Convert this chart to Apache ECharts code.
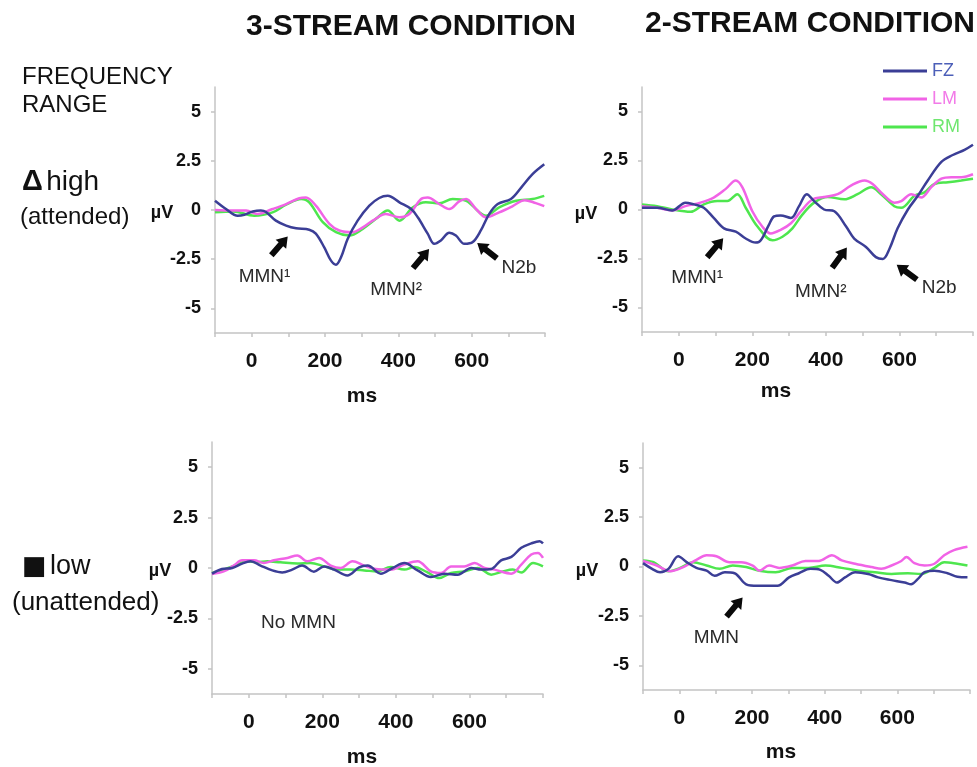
<!DOCTYPE html>
<html><head><meta charset="utf-8">
<script src="https://cdn.jsdelivr.net/npm/echarts@6/dist/echarts.min.js"></script>
<style>html,body{margin:0;padding:0;background:#fff}#c{width:977px;height:767px}</style>
</head><body><div id="c"></div>
<script>
// ---------- data ----------
const seriesNames = ['FZ', 'LM', 'RM'];
const xLabelValues = [0, 200, 400, 600];
const yTickValues = [-5, -2.5, 0, 2.5, 5];

// 3-stream, high (attended)
const tlFZ = [[-100,0.47],[-70,0.05],[-38,-0.29],[-20,-0.24],[3,-0.08],[25,-0.03],[39,-0.1],[66,-0.54],[94,-0.79],[121,-0.93],[157,-1.0],[175,-1.2],[198,-1.9],[216,-2.56],[230,-2.78],[244,-2.39],[262,-1.46],[289,-0.54],[321,0.22],[348,0.61],[371,0.72],[403,0.39],[435,0.05],[453,-0.37],[480,-1.2],[498,-1.72],[516,-1.55],[539,-1.16],[557,-1.3],[580,-1.72],[603,-1.63],[625,-1.04],[648,-0.2],[671,0.3],[707,0.56],[735,1.14],[766,1.82],[798,2.32]];
const tlLM = [[-100,0],[-52,-0.03],[-15,-0.03],[16,-0.2],[57,0.05],[94,0.3],[130,0.6],[148,0.64],[175,0.22],[212,-0.7],[239,-1.04],[275,-1.13],[303,-0.88],[330,-0.54],[366,-0.2],[403,-0.37],[430,-0.2],[462,0.56],[480,0.64],[512,0.3],[539,0.05],[566,0.44],[585,0.56],[612,0.05],[639,-0.37],[675,-0.12],[712,0.2],[744,0.5],[775,0.35],[798,0.2]];
const tlRM = [[-100,-0.12],[-50,-0.07],[7,-0.29],[57,-0.12],[94,0.27],[135,0.56],[157,0.39],[194,-0.62],[230,-1.13],[266,-1.3],[303,-0.96],[339,-0.45],[371,-0.03],[403,-0.54],[439,0.13],[475,0.39],[512,0.34],[548,0.56],[585,0.47],[621,-0.12],[639,-0.29],[675,0.13],[721,0.47],[766,0.56],[798,0.72]];

// 2-stream, high (attended)
const trFZ = [[-100,0.09],[-59,0.09],[-18,-0.05],[18,0.35],[41,0.26],[68,0.09],[95,-0.43],[123,-0.96],[155,-1.13],[182,-1.48],[209,-1.69],[223,-1.57],[245,-0.78],[259,-0.35],[277,-0.3],[305,-0.43],[327,0.17],[348,0.78],[368,0.43],[395,0],[423,-0.09],[455,-0.87],[477,-1.48],[509,-1.91],[536,-2.43],[555,-2.52],[573,-2.0],[595,-0.96],[623,0],[650,0.7],[677,1.48],[714,2.43],[745,2.78],[777,3.04],[800,3.3]];
const trLM = [[-100,0.17],[-59,0.09],[-18,-0.05],[18,0.17],[59,0.35],[95,0.61],[127,1.04],[155,1.48],[173,1.13],[200,-0.09],[227,-0.87],[250,-1.22],[277,-1.04],[305,-0.7],[332,-0.09],[364,0.52],[395,0.64],[432,0.78],[468,1.22],[505,1.48],[527,1.3],[555,0.78],[586,0.35],[605,0.43],[632,0.78],[659,0.61],[686,1.13],[714,1.57],[741,1.65],[768,1.65],[800,1.8]];
const trRM = [[-100,0.26],[-59,0.17],[-18,0],[32,-0.12],[68,0.26],[105,0.43],[132,0.43],[159,0.78],[182,0.09],[214,-0.87],[255,-1.57],[282,-1.39],[309,-0.96],[336,-0.26],[368,0.35],[405,0.64],[450,0.52],[486,0.78],[523,1.13],[550,0.78],[586,0.17],[605,0.09],[641,0.7],[668,0.87],[695,1.3],[732,1.39],[768,1.48],[800,1.57]];

// 3-stream, low (unattended)
const blFZ = [[-100,-0.28],[-73,-0.05],[-45,0],[-18,0.22],[5,0.33],[32,0.12],[64,-0.12],[91,-0.22],[118,-0.08],[145,0.12],[177,-0.18],[205,0.08],[232,-0.08],[268,-0.37],[300,0.03],[323,0.12],[359,-0.28],[391,0],[423,0.25],[459,-0.12],[495,-0.45],[532,-0.28],[568,-0.33],[605,0],[632,-0.08],[659,-0.05],[686,0.38],[714,0.55],[741,1.0],[768,1.22],[791,1.33],[800,1.22]];
const blLM = [[-100,-0.3],[-68,-0.17],[-41,0.12],[-18,0.38],[14,0.38],[41,0.25],[68,0.38],[105,0.5],[132,0.62],[159,0.33],[191,0.5],[223,0.12],[250,0],[282,0.33],[314,0.12],[345,-0.05],[386,-0.08],[423,0.17],[459,0.33],[495,-0.17],[523,-0.25],[550,0.08],[586,0.08],[614,0.25],[641,0],[668,-0.08],[714,-0.28],[741,0.17],[768,0.67],[786,0.75],[800,0.5]];
const blRM = [[-100,-0.25],[-68,-0.08],[-32,0.17],[-5,0.33],[23,0.28],[50,0.33],[86,0.28],[132,0.22],[168,0.25],[205,0.08],[241,-0.08],[277,-0.08],[314,-0.12],[350,-0.17],[386,0.05],[423,-0.08],[450,0.05],[486,-0.22],[518,-0.5],[550,-0.25],[586,-0.17],[623,0],[659,-0.33],[691,-0.17],[718,-0.08],[741,-0.22],[773,0.25],[800,0.08]];

// 2-stream, low (unattended)
const brFZ = [[-100,0.17],[-75,-0.12],[-53,-0.29],[-30,-0.12],[-3,0.52],[20,0.22],[47,-0.07],[75,-0.21],[97,-0.47],[125,-0.29],[152,-0.34],[184,-0.9],[215,-0.98],[247,-0.98],[270,-0.98],[302,-0.55],[329,-0.34],[361,-0.12],[388,-0.17],[411,-0.47],[434,-0.81],[456,-0.55],[484,-0.29],[520,-0.38],[547,-0.55],[584,-0.69],[620,-0.81],[638,-0.9],[656,-0.64],[675,-0.29],[702,-0.21],[738,-0.34],[765,-0.52],[793,-0.55]];
const brLM = [[-100,0.28],[-62,0.05],[-25,-0.24],[11,-0.03],[47,0.34],[75,0.57],[102,0.52],[138,0.22],[170,0.22],[202,0.05],[220,-0.21],[247,0.05],[275,-0.07],[311,0.05],[347,0.28],[384,0.28],[420,0.57],[447,0.31],[484,0.14],[529,-0.03],[556,-0.12],[584,0.05],[611,0.28],[625,0.48],[647,0.17],[675,0.05],[702,0.14],[729,0.57],[756,0.83],[793,1.0]];
const brRM = [[-100,0.31],[-71,0.22],[-30,-0.24],[2,-0.07],[38,0.22],[75,0.05],[111,-0.12],[147,0.05],[184,-0.03],[220,-0.21],[265,-0.29],[311,-0.07],[356,-0.07],[402,0.05],[447,-0.07],[493,-0.21],[538,-0.29],[584,-0.38],[629,-0.34],[665,-0.38],[702,-0.07],[729,0.22],[765,0.14],[793,0.05]];

// annotations (data coordinates)
const tlNotes = [['MMN¹', 35, -3.38], ['MMN²', 394, -4.04], ['N2b', 729, -2.93]];
const tlArrows = [[76, -1.82, -41], [462, -2.47, -40], [642, -2.07, 52]];
const trNotes = [['MMN¹', 50, -3.46], ['MMN²', 386, -4.2], ['N2b', 708, -3.97]];
const trArrows = [[99, -1.95, -40], [437, -2.46, -36], [620, -3.2, 54]];
const blNotes = [['No MMN', 135, -2.74]];
const blArrows = [];
const brNotes = [['MMN', 102, -3.59]];
const brArrows = [[152, -2.05, -40]];

// ---------- chart ----------
const FONT = 'Liberation Sans, Arial, sans-serif';
const colors = ['#3b3e96', '#f163e6', '#4ee64e'];
const legendTextColors = ['#4c5fb8', '#f27ae8', '#6fe66f'];
const arrowPath = 'path://M7,0L14,10L10,10L10,24L4,24L4,10L0,10Z';

const panels = [
  { grid: { left: 215, top: 87, width: 330, height: 246 }, data: [tlFZ, tlLM, tlRM], notes: tlNotes, arrows: tlArrows },
  { grid: { left: 642, top: 87, width: 331, height: 245 }, data: [trFZ, trLM, trRM], notes: trNotes, arrows: trArrows },
  { grid: { left: 212, top: 442, width: 331, height: 252 }, data: [blFZ, blLM, blRM], notes: blNotes, arrows: blArrows },
  { grid: { left: 643, top: 443, width: 327, height: 247 }, data: [brFZ, brLM, brRM], notes: brNotes, arrows: brArrows }
];

const axisGray = '#c4c4c4';
const grids = [], xAxes = [], yAxes = [], series = [];
panels.forEach((p, i) => {
  grids.push(Object.assign({ containLabel: false }, p.grid));
  xAxes.push({
    type: 'value', gridIndex: i, min: -100, max: 800, interval: 100,
    axisLine: { show: true, onZero: false, lineStyle: { color: axisGray, width: 1.5 } },
    axisTick: { show: true, length: 4, lineStyle: { color: axisGray, width: 1.5 } },
    splitLine: { show: false },
    axisLabel: {
      margin: 18, fontSize: 21, fontWeight: 'bold', color: '#111', fontFamily: FONT,
      formatter: v => (xLabelValues.indexOf(v) >= 0 ? String(v) : '')
    }
  });
  yAxes.push({
    type: 'value', gridIndex: i, min: -6.25, max: 6.25,
    axisLine: { show: true, onZero: false, lineStyle: { color: axisGray, width: 1.5 } },
    axisTick: { show: true, length: 4, customValues: yTickValues, lineStyle: { color: axisGray, width: 1.5 } },
    splitLine: { show: false },
    axisLabel: {
      customValues: yTickValues, margin: 14, fontSize: 18, fontWeight: 'bold', color: '#111', fontFamily: FONT,
      padding: [6, 0, 0, 0]
    }
  });
  p.data.forEach((d, k) => {
    const s = {
      name: seriesNames[k], type: 'line', xAxisIndex: i, yAxisIndex: i,
      data: d, smooth: 0.35, showSymbol: false, symbol: 'none',
      lineStyle: { color: colors[k], width: 2.5 }, itemStyle: { color: colors[k] },
      z: 3 - k
    };
    if (k === 0) {
      const mp = [];
      p.arrows.forEach(a => mp.push({
        coord: [a[0], a[1]], symbol: arrowPath, symbolSize: [14, 25], symbolRotate: a[2],
        itemStyle: { color: '#0a0a0a' }, label: { show: false }
      }));
      p.notes.forEach(n => mp.push({
        coord: [n[1], n[2]], symbol: 'circle', symbolSize: 1,
        itemStyle: { color: 'rgba(0,0,0,0)' },
        label: { show: true, position: 'inside', formatter: n[0], fontSize: 19, color: '#2a2a2a', fontFamily: FONT }
      }));
      s.markPoint = { silent: true, animation: false, data: mp };
    }
    series.push(s);
  });
});

function txt(x, y, text, size, bold, align, extra) {
  return Object.assign({
    type: 'text', x: x, y: y, silent: true,
    style: { text: text, fontSize: size, fontWeight: bold ? 'bold' : 'normal', fontFamily: FONT,
      fill: '#111', textAlign: align || 'left', textVerticalAlign: 'middle' }
  }, extra || {});
}

const graphic = [
  txt(411, 27, '3-STREAM CONDITION', 30, true, 'center'),
  txt(810, 24, '2-STREAM CONDITION', 30, true, 'center'),
  txt(22, 77, 'FREQUENCY', 24, false),
  txt(22, 105, 'RANGE', 24, false),
  { type: 'text', x: 22, y: 182, silent: true, style: {
      text: '{a|Δ} {b|high}', textVerticalAlign: 'middle', fill: '#111',
      rich: { a: { fontSize: 29, fontWeight: 'bold', fontFamily: FONT, fill: '#111' },
              b: { fontSize: 28, fontFamily: FONT, fill: '#111' } } } },
  txt(20, 217, '(attended)', 24, false),
  { type: 'text', x: 22, y: 567, silent: true, style: {
      text: '{a|■} {b|low}', textVerticalAlign: 'middle', fill: '#111',
      rich: { a: { fontSize: 26, fontFamily: 'DejaVu Sans', fill: '#111' },
              b: { fontSize: 27, fontFamily: FONT, fill: '#111' } } } },
  txt(12, 603, '(unattended)', 26, false),
  txt(162, 213, 'µV', 18, true, 'center'),
  txt(586, 214, 'µV', 18, true, 'center'),
  txt(160, 571, 'µV', 18, true, 'center'),
  txt(587, 571, 'µV', 18, true, 'center'),
  txt(362, 396, 'ms', 21, true, 'center'),
  txt(776, 391, 'ms', 21, true, 'center'),
  txt(362, 757, 'ms', 21, true, 'center'),
  txt(781, 752, 'ms', 21, true, 'center')
];

const chart = echarts.init(document.getElementById('c'), null, { renderer: 'canvas' });
chart.setOption({
  animation: false,
  backgroundColor: '#fff',
  legend: {
    orient: 'vertical', left: 878, top: 57, itemWidth: 44, itemHeight: 3, itemGap: 10,
    icon: 'rect', selectedMode: false,
    textStyle: { fontSize: 18, fontFamily: FONT },
    data: seriesNames.map((n, k) => ({ name: n, textStyle: { color: legendTextColors[k] } }))
  },
  grid: grids, xAxis: xAxes, yAxis: yAxes, series: series, graphic: graphic
});
</script></body></html>
